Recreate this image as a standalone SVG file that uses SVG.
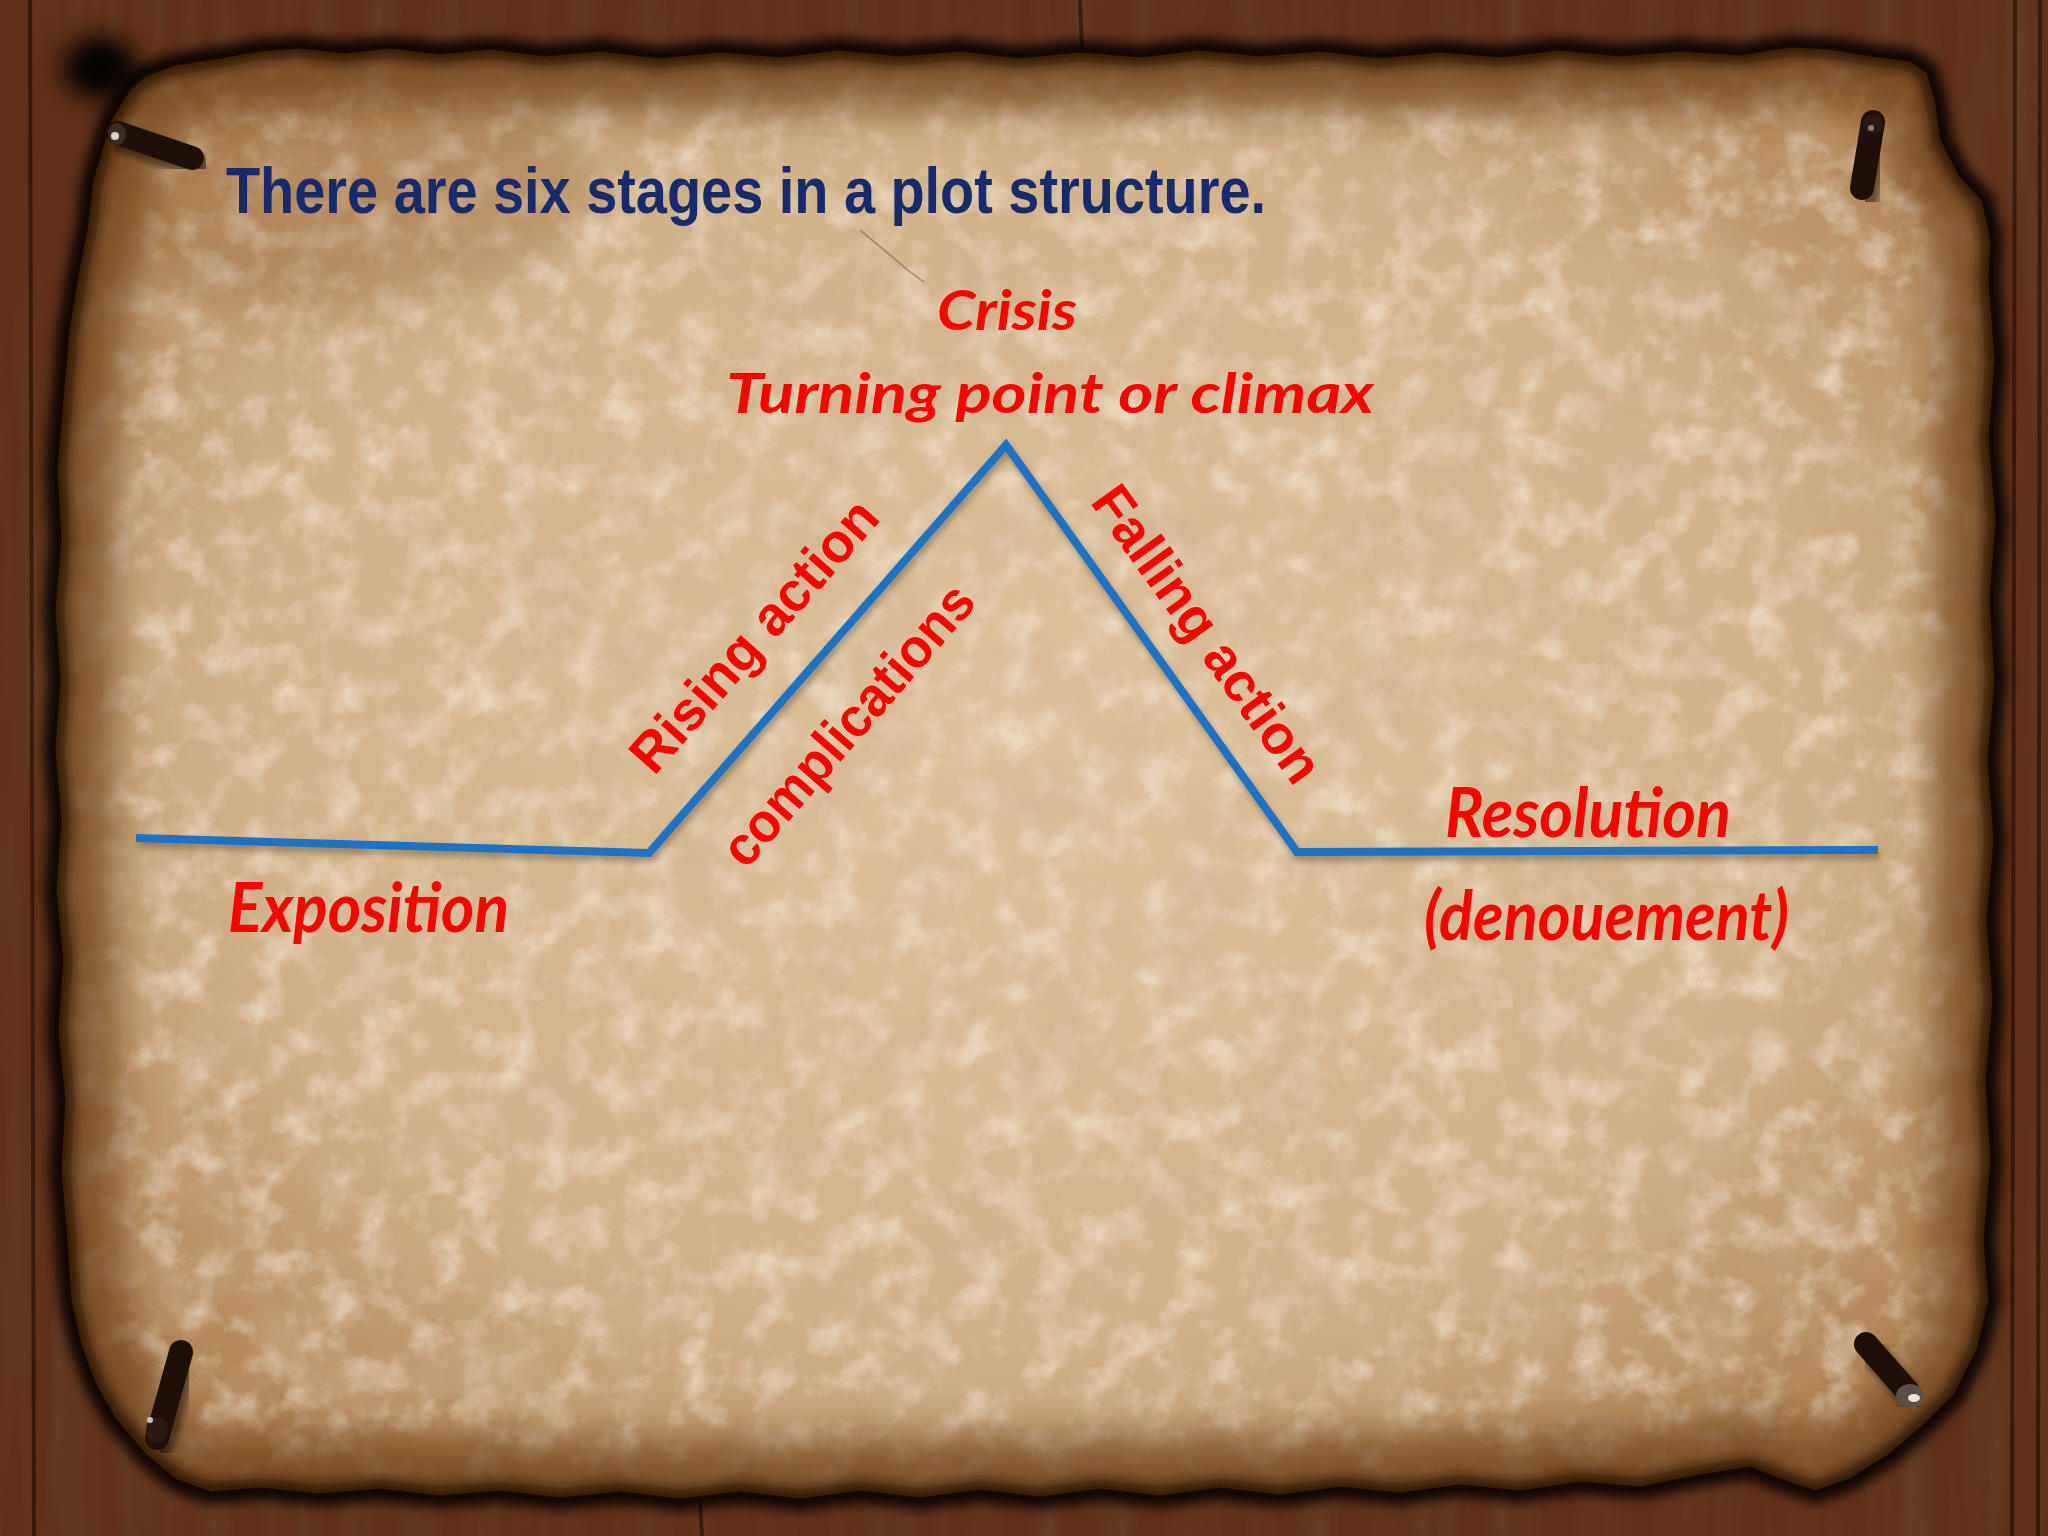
<svg xmlns="http://www.w3.org/2000/svg" width="2048" height="1536" viewBox="0 0 2048 1536">
<defs>
<style>
.title{font-family:"Liberation Sans Narrow","Liberation Sans",Arial,sans-serif;font-weight:bold;fill:#172a6e;font-size:64px}
.red{font-family:Lato,"Liberation Sans",sans-serif;font-weight:bold;font-style:italic;fill:#ff0000}
.rot{font-family:"Liberation Sans",Arial,sans-serif;font-weight:bold;fill:#ff0000;font-size:55px}
.nail{stroke:#1e0f08;stroke-linecap:round;fill:none;stroke-width:24}
.nailsh{stroke:#000;stroke-linecap:round;fill:none;stroke-width:26;opacity:.45}
</style>
<path id="edge" d="M145,75 L175,64 215,58 260,50 300,47 345,52 390,47 440,53 490,48 545,55 600,50 660,57 720,51 780,56 840,49 900,55 960,50 1020,57 1080,51 1140,56 1200,49 1260,55 1320,50 1380,57 1440,51 1500,56 1560,49 1620,55 1680,50 1740,54 1790,46 1830,48 1870,55 1910,60 1928,72 1936,100 1942,140 1960,175 1983,200 1992,240 1990,280 1996,360 1990,440 1997,520 1991,600 1996,680 1989,760 1995,840 1988,920 1994,1000 1987,1080 1992,1160 1985,1240 1990,1300 1978,1350 1955,1395 1925,1425 1890,1455 1850,1480 1815,1492 1785,1482 1750,1468 1700,1476 1640,1488 1580,1483 1520,1492 1460,1486 1400,1494 1340,1488 1280,1496 1220,1489 1160,1497 1100,1490 1040,1498 980,1491 920,1499 860,1492 800,1500 740,1493 680,1500 620,1493 560,1499 500,1492 440,1497 380,1490 320,1495 260,1489 210,1493 175,1480 145,1455 115,1420 95,1385 80,1345 70,1300 66,1240 60,1170 64,1100 57,1030 62,960 55,890 60,820 54,750 59,680 54,610 60,540 56,470 62,400 68,330 78,270 86,230 92,180 110,120 130,88 Z"/>
<clipPath id="parchClip"><use href="#edge"/></clipPath>
<radialGradient id="pg" cx="50%" cy="48%" r="62%">
<stop offset="0" stop-color="#dcc29b"/>
<stop offset="0.65" stop-color="#d2b389"/>
<stop offset="1" stop-color="#b08152"/>
</radialGradient>
<filter id="mottle" x="0" y="0" width="1" height="1">
<feTurbulence type="fractalNoise" baseFrequency="0.012" numOctaves="4" seed="7"/>
<feColorMatrix type="matrix" values="0 0 0 0 0.62  0 0 0 0 0.45  0 0 0 0 0.28  -2.2 0 0 0 1.3"/>
</filter>
<filter id="speck" x="0" y="0" width="1" height="1">
<feTurbulence type="fractalNoise" baseFrequency="0.028" numOctaves="5" seed="2"/>
<feColorMatrix type="matrix" values="0 0 0 0 0.92  0 0 0 0 0.85  0 0 0 0 0.72  2.4 0 0 0 -1.05"/>
</filter>
<filter id="wood" x="0" y="0" width="1" height="1">
<feTurbulence type="fractalNoise" baseFrequency="0.03 0.0025" numOctaves="3" seed="5"/>
<feColorMatrix type="matrix" values="0 0 0 0 0.13  0 0 0 0 0.05  0 0 0 0 0.02  -2.4 0 0 0 1.45"/>
</filter>
<filter id="blur20" x="-10%" y="-10%" width="120%" height="120%"><feGaussianBlur stdDeviation="20"/></filter>
<filter id="blur12" x="-50%" y="-50%" width="200%" height="200%"><feGaussianBlur stdDeviation="12"/></filter>
<filter id="blur6" x="-10%" y="-10%" width="120%" height="120%"><feGaussianBlur stdDeviation="6"/></filter>
<filter id="blur3" x="-10%" y="-10%" width="120%" height="120%"><feGaussianBlur stdDeviation="3"/></filter>
</defs>

<g id="background">
<rect width="2048" height="1536" fill="#62301a"/>
<rect width="2048" height="1536" fill="#000" filter="url(#wood)" opacity="0.75"/>
<g stroke="#1f0c05" stroke-width="4" opacity="0.6">
<line x1="30" y1="0" x2="34" y2="1536"/>
<line x1="2015" y1="0" x2="2012" y2="1536"/>
<line x1="2040" y1="0" x2="2038" y2="1536"/>
<line x1="700" y1="1500" x2="702" y2="1536"/>
<line x1="1080" y1="0" x2="1082" y2="50"/>
</g>
<use href="#edge" fill="none" stroke="#000" stroke-width="22" filter="url(#blur6)" opacity="0.85"/>
<ellipse cx="100" cy="68" rx="38" ry="32" fill="#000" filter="url(#blur12)" opacity="0.95"/>
</g>

<g id="parchment">
<use href="#edge" fill="url(#pg)"/>
<g clip-path="url(#parchClip)">
<rect x="40" y="30" width="1970" height="1480" fill="#fff" filter="url(#speck)" opacity="0.6"/>
<rect x="40" y="30" width="1970" height="1480" fill="#fff" filter="url(#mottle)" opacity="0.5"/>
<ellipse cx="330" cy="190" rx="260" ry="120" fill="#8a5a2a" opacity="0.25" filter="url(#blur20)"/>
<use href="#edge" fill="none" stroke="#6e3f16" stroke-width="110" filter="url(#blur20)" opacity="0.8"/>
<use href="#edge" fill="none" stroke="#2a1206" stroke-width="22" filter="url(#blur6)" opacity="0.9"/>
<path d="M860,230 L890,255 910,272 924,282" stroke="#3a2510" stroke-width="2" fill="none" opacity="0.3"/>
</g>
<use href="#edge" fill="none" stroke="#140803" stroke-width="3"/>
</g>

<g id="nails">
<g id="nail-tl">
<line class="nailsh" x1="122" y1="140" x2="198" y2="166" filter="url(#blur3)"/>
<line class="nail" x1="118" y1="133" x2="192" y2="158"/>
<ellipse cx="117" cy="134" rx="9" ry="11" fill="#3a2a22"/>
<circle cx="115" cy="136" r="4" fill="#d8d2c6"/>
</g>
<g id="nail-tr">
<line class="nailsh" x1="1878" y1="128" x2="1867" y2="195" filter="url(#blur3)"/>
<line class="nail" x1="1873" y1="122" x2="1862" y2="188"/>
<circle cx="1873" cy="124" r="10" fill="#2a1a12"/>
<circle cx="1871" cy="128" r="3" fill="#8a7a6a"/>
</g>
<g id="nail-bl">
<line class="nailsh" x1="186" y1="1358" x2="162" y2="1444" filter="url(#blur3)"/>
<line class="nail" x1="181" y1="1352" x2="157" y2="1438"/>
<ellipse cx="157" cy="1430" rx="11" ry="13" fill="#2a1a12"/>
<circle cx="150" cy="1420" r="3" fill="#c9c2b6"/>
</g>
<g id="nail-br">
<line class="nailsh" x1="1870" y1="1350" x2="1914" y2="1401" filter="url(#blur3)"/>
<line class="nail" x1="1866" y1="1344" x2="1908" y2="1392"/>
<ellipse cx="1910" cy="1396" rx="14" ry="12" fill="#5a5048"/>
<ellipse cx="1914" cy="1398" rx="6" ry="4" fill="#e8e2d8"/>
</g>
</g>

<g id="connectors">
<polyline points="136,838 649,853 1006,445 1297,852 1878,850" fill="none" stroke="#2a1a0a" stroke-width="8" opacity="0.35" transform="translate(2,5)" filter="url(#blur3)"/>
<polyline points="136,838 649,853 1006,445 1297,852 1878,850" fill="none" stroke="#1e72c4" stroke-width="8" stroke-linejoin="miter"/>
</g>

<g id="title"><text class="title" x="226" y="213" textLength="1040" lengthAdjust="spacingAndGlyphs">There are six stages in a plot structure.</text></g>
<g id="crisis"><text class="red" x="937" y="330" font-size="56" textLength="140" lengthAdjust="spacingAndGlyphs">Crisis</text></g>
<g id="turning"><text class="red" x="726" y="413" font-size="56" textLength="648" lengthAdjust="spacingAndGlyphs">Turning point or climax</text></g>
<g id="exposition"><text class="red" x="228" y="932" font-size="68" textLength="281" lengthAdjust="spacingAndGlyphs">Exposition</text></g>
<g id="resolution"><text class="red" x="1445" y="837" font-size="68" textLength="286" lengthAdjust="spacingAndGlyphs">Resolution</text></g>
<g id="denouement"><text class="red" x="1424" y="940" font-size="68" textLength="365" lengthAdjust="spacingAndGlyphs">(denouement)</text></g>
<g id="rising"><text class="rot" transform="translate(768,648) rotate(-48.5)" text-anchor="middle" textLength="344" lengthAdjust="spacingAndGlyphs">Rising action</text></g>
<g id="complications"><text class="rot" transform="translate(862,737) rotate(-49)" text-anchor="middle" textLength="354" lengthAdjust="spacingAndGlyphs">complications</text></g>
<g id="falling"><text class="rot" transform="translate(1192,645) rotate(54.3)" text-anchor="middle" textLength="352" lengthAdjust="spacingAndGlyphs">Falling action</text></g>
</svg>
